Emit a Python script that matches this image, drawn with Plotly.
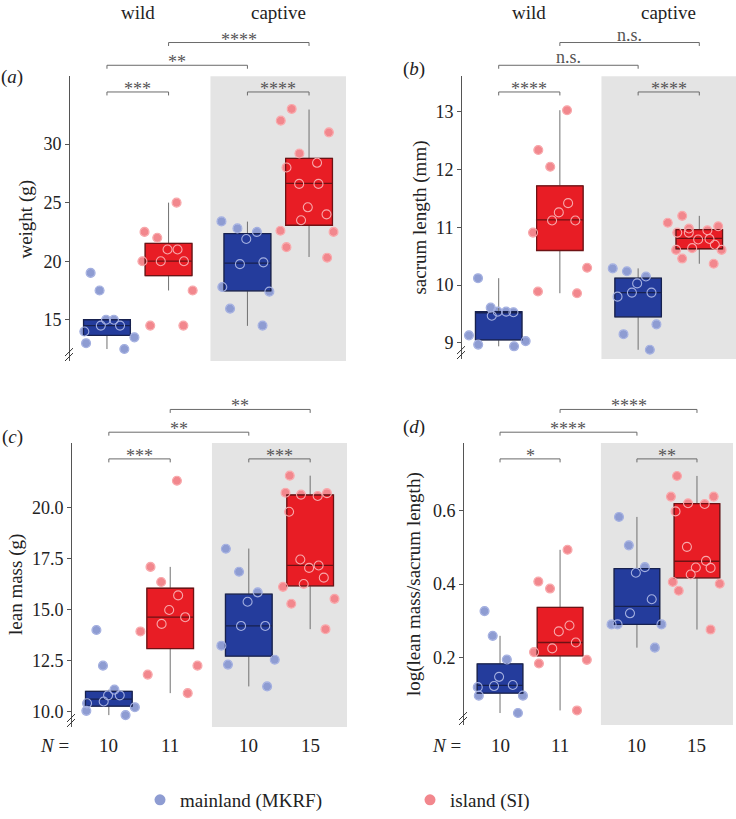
import plotly.graph_objects as go

W, H = 736, 819
FONT = "'Liberation Serif', 'Times New Roman', Times, serif"

# ---------------- data ----------------
positions = [0, 1, 2.28, 3.28]
origin = ["mainland", "island", "mainland", "island"]
n_labels = ["10", "11", "10", "15"]
header_labels = ["wild", "captive"]
legend_labels = ["mainland (MKRF)", "island (SI)"]

# (a) weight (g)
weight_points = [
    [19.0, 17.5, 15.0, 15.0, 14.5, 14.5, 14.0, 13.5, 13.0, 12.5],
    [25.0, 22.5, 22.0, 21.0, 21.0, 20.0, 20.0, 20.0, 17.5, 14.5, 14.5],
    [23.4, 22.8, 22.5, 21.9, 19.9, 19.75, 17.8, 17.4, 15.95, 14.5],
    [33.0, 32.0, 31.0, 29.2, 28.4, 28.0, 26.6, 26.6, 24.6, 24.0, 23.5, 22.6, 22.5, 21.2, 20.3],
]
weight_q1 = [13.67, 18.76, 17.47, 23.07]
weight_median = [14.5, 20.0, 19.83, 26.64]
weight_q3 = [15.0, 21.52, 22.36, 28.78]
weight_lo = [12.5, 17.5, 14.48, 20.36]
weight_hi = [15.0, 25.0, 23.38, 32.95]
weight_ticks = [15, 20, 25, 30]
weight_sig = [(0, 1, "***", 0), (2, 3, "****", 0), (0, 2, "**", 1), (1, 3, "****", 2)]

# (b) sacrum length (mm)
sacrum_points = [
    [10.12, 9.61, 9.54, 9.53, 9.54, 9.47, 9.13, 9.03, 8.97, 8.94],
    [13.03, 12.34, 12.05, 11.42, 11.26, 11.12, 11.12, 10.91, 10.30, 9.89, 9.86],
    [10.29, 10.24, 10.15, 10.03, 9.87, 9.87, 9.80, 9.32, 9.15, 8.88],
    [11.2, 11.08, 11.02, 10.98, 10.95, 10.91, 10.91, 10.79, 10.8, 10.7, 10.64, 10.61, 10.61, 10.46, 10.37],
]
sacrum_q1 = [9.05, 10.6, 9.45, 10.63]
sacrum_median = [9.52, 11.13, 9.87, 10.81]
sacrum_q3 = [9.54, 11.72, 10.12, 10.96]
sacrum_lo = [8.94, 9.86, 8.88, 10.37]
sacrum_hi = [10.12, 13.03, 10.29, 11.2]
sacrum_ticks = [9, 10, 11, 12, 13]
sacrum_sig = [(0, 1, "****", 0), (2, 3, "****", 0), (0, 2, "n.s.", 1), (1, 3, "n.s.", 2)]

# (c) lean mass (g)
lean_points = [
    [14.0, 12.25, 11.07, 10.79, 10.79, 10.49, 10.40, 10.21, 10.03, 9.82],
    [21.33, 17.10, 16.36, 15.7, 14.98, 14.63, 14.3, 13.93, 12.25, 11.81, 10.9],
    [17.99, 16.86, 15.85, 15.39, 14.2, 14.2, 13.23, 12.54, 12.3, 11.23],
    [21.58, 20.74, 20.72, 20.58, 20.65, 19.81, 17.46, 17.17, 17.05, 16.57, 16.26, 16.12, 15.53, 15.29, 14.04],
]
lean_q1 = [10.26, 13.09, 12.72, 16.17]
lean_median = [10.61, 14.63, 14.2, 17.17]
lean_q3 = [10.99, 16.05, 15.76, 20.63]
lean_lo = [9.82, 10.9, 11.23, 14.04]
lean_hi = [11.07, 17.1, 18.0, 21.58]
lean_ticks = [10.0, 12.5, 15.0, 17.5, 20.0]
lean_sig = [(0, 1, "***", 0), (2, 3, "***", 0), (0, 2, "**", 1), (1, 3, "**", 2)]

# (d) log(lean mass/sacrum length)
ratio_points = [
    [0.327, 0.26, 0.196, 0.149, 0.127, 0.121, 0.124, 0.098, 0.098, 0.051],
    [0.493, 0.407, 0.388, 0.288, 0.272, 0.242, 0.226, 0.216, 0.195, 0.185, 0.058],
    [0.582, 0.505, 0.446, 0.431, 0.359, 0.321, 0.291, 0.291, 0.291, 0.228],
    [0.693, 0.637, 0.637, 0.617, 0.619, 0.597, 0.501, 0.445, 0.463, 0.444, 0.426, 0.406, 0.401, 0.382, 0.277],
]
ratio_q1 = [0.105, 0.206, 0.291, 0.417]
ratio_median = [0.126, 0.242, 0.340, 0.462]
ratio_q3 = [0.184, 0.337, 0.442, 0.618]
ratio_lo = [0.051, 0.058, 0.228, 0.277]
ratio_hi = [0.26, 0.493, 0.582, 0.693]
ratio_ticks = [0.2, 0.4, 0.6]
ratio_sig = [(0, 1, "*", 0), (2, 3, "**", 0), (0, 2, "****", 1), (1, 3, "****", 2)]

# ---------------- styling ----------------
BOX_FILL = {"mainland": "#243c9c", "island": "#e81d25"}
BOX_LINE = {"mainland": "#17214f", "island": "#6e1214"}
PT_FILL = {"mainland": "#8e9cd2", "island": "#f2878d"}
PT_RING = {"mainland": "#a3afe0", "island": "#f8a7aa"}
GRAY_BG = "#e4e4e4"
AXIS_COL = "#555555"

panels = [
    dict(label="a", title="weight (g)", pts=weight_points, q1=weight_q1, med=weight_median,
         q3=weight_q3, lo=weight_lo, hi=weight_hi, ticks=weight_ticks, fmt="{:g}", sig=weight_sig,
         xpx=(70, 346), ypx=(77, 365), yr=(11.48, 35.8), titlex=26, labpos=(12, 78)),
    dict(label="b", title="sacrum length (mm)", pts=sacrum_points, q1=sacrum_q1, med=sacrum_median,
         q3=sacrum_q3, lo=sacrum_lo, hi=sacrum_hi, ticks=sacrum_ticks, fmt="{:g}", sig=sacrum_sig,
         xpx=(462, 736), ypx=(77, 363), yr=(8.72, 13.62), titlex=420, labpos=(414, 70)),
    dict(label="c", title="lean mass (g)", pts=lean_points, q1=lean_q1, med=lean_median,
         q3=lean_q3, lo=lean_lo, hi=lean_hi, ticks=lean_ticks, fmt="{:.1f}", sig=lean_sig,
         xpx=(72, 347), ypx=(448, 735), yr=(9.24, 23.18), titlex=16, labpos=(12, 442)),
    dict(label="d", title="log(lean mass/sacrum length)", pts=ratio_points, q1=ratio_q1, med=ratio_median,
         q3=ratio_q3, lo=ratio_lo, hi=ratio_hi, ticks=ratio_ticks, fmt="{:.1f}", sig=ratio_sig,
         xpx=(464, 733), ypx=(448, 733), yr=(0.0187, 0.782), titlex=414, labpos=(414, 432)),
]

XR = (-0.6, 3.88)
BOX_W = 0.76
PTS_W = 1.15
GRAY_X0 = 1.68


def px_x(p):
    return p / W


def px_y(p):
    return 1 - p / H


fig = go.Figure()
shapes = []
annotations = []
layout_axes = {}

for k, p in enumerate(panels):
    sfx = "" if k == 0 else str(k + 1)
    xa, ya = "x" + sfx, "y" + sfx
    x0p, x1p = p["xpx"]
    y0p, y1p = p["ypx"]
    layout_axes["xaxis" + sfx] = dict(
        domain=[px_x(x0p), px_x(x1p)], range=list(XR), visible=False, anchor=ya, fixedrange=True)
    layout_axes["yaxis" + sfx] = dict(
        domain=[px_y(y1p), px_y(y0p)], range=list(p["yr"]), anchor=xa,
        showgrid=False, zeroline=False, showline=True, linecolor=AXIS_COL, linewidth=1,
        ticks="outside", ticklen=4, tickcolor=AXIS_COL, tickwidth=1,
        tickvals=p["ticks"], ticktext=[p["fmt"].format(t) for t in p["ticks"]],
        tickfont=dict(family=FONT, size=18, color="#222"), fixedrange=True)

    # grey "captive" background
    shapes.append(dict(type="rect", xref=xa, yref=ya + " domain", x0=GRAY_X0, x1=XR[1], y0=0, y1=1,
                       fillcolor=GRAY_BG, line=dict(width=0), layer="below"))

    for g in range(4):
        o = origin[g]
        pos = positions[g]
        pts = p["pts"][g]
        common_pts = dict(x=[pos] * len(pts), y=pts, boxpoints="all", jitter=1.0, pointpos=0,
                          width=PTS_W, fillcolor="rgba(0,0,0,0)", line=dict(width=0, color="rgba(0,0,0,0)"),
                          xaxis=xa, yaxis=ya, showlegend=False, hoverinfo="y")
        # filled points (underneath)
        fig.add_trace(go.Box(**common_pts, marker=dict(size=9, color=PT_FILL[o],
                                                       line=dict(color="rgba(255,255,255,0.55)", width=0.8))))
        # whiskers
        fig.add_trace(go.Box(x=[pos], q1=[p["q1"][g]], median=[p["med"][g]], q3=[p["q3"][g]],
                             lowerfence=[p["lo"][g]], upperfence=[p["hi"][g]], boxpoints=False,
                             width=BOX_W, whiskerwidth=0, fillcolor="rgba(0,0,0,0)",
                             line=dict(color="#707070", width=1), xaxis=xa, yaxis=ya,
                             showlegend=False, hoverinfo="skip"))
        # box
        fig.add_trace(go.Box(x=[pos], q1=[p["q1"][g]], median=[p["med"][g]], q3=[p["q3"][g]],
                             lowerfence=[p["q1"][g]], upperfence=[p["q3"][g]], boxpoints=False,
                             width=BOX_W, whiskerwidth=0, fillcolor=BOX_FILL[o],
                             line=dict(color=BOX_LINE[o], width=1.3), xaxis=xa, yaxis=ya,
                             showlegend=False, hoverinfo="skip"))
        # rings on top
        fig.add_trace(go.Box(**common_pts, marker=dict(size=9, color="rgba(0,0,0,0)",
                                                       line=dict(color=PT_RING[o], width=1.1))))

    # significance brackets
    offs = {0: 16, 1: -11, 2: -34}
    for (i, j, txt, lvl) in p["sig"]:
        ly = y0p + offs[lvl]
        yl = px_y(ly)
        yt = px_y(ly + 3.5)
        xi, xj = positions[i], positions[j]
        line = dict(color="#6a6a6a", width=1)
        shapes.append(dict(type="line", xref=xa, yref="paper", x0=xi, x1=xj, y0=yl, y1=yl, line=line))
        shapes.append(dict(type="line", xref=xa, yref="paper", x0=xi, x1=xi, y0=yl, y1=yt, line=line))
        shapes.append(dict(type="line", xref=xa, yref="paper", x0=xj, x1=xj, y0=yl, y1=yt, line=line))
        is_star = txt.startswith("*")
        annotations.append(dict(text=txt, xref=xa, yref="paper", x=(xi + xj) / 2, y=yl,
                                xanchor="center", yanchor="bottom", showarrow=False,
                                yshift=-9 if is_star else -4,
                                font=dict(family=FONT, size=18, color="#555")))

    # axis break marks
    ax_x = x0p
    for dy in (4, 9):
        shapes.append(dict(type="line", xref="paper", yref="paper",
                           x0=px_x(ax_x - 5), y0=px_y(y1p - dy + 4),
                           x1=px_x(ax_x + 3), y1=px_y(y1p - dy - 4),
                           line=dict(color="#333", width=1)))

    # y-axis title
    annotations.append(dict(text=p["title"], xref="paper", yref=ya + " domain", x=px_x(p["titlex"]), y=0.5,
                            textangle=-90, xanchor="center", yanchor="middle", showarrow=False,
                            font=dict(family=FONT, size=19, color="#222")))
    # panel label
    annotations.append(dict(text="(<i>%s</i>)" % p["label"], xref="paper", yref="paper",
                            x=px_x(p["labpos"][0]), y=px_y(p["labpos"][1]), xanchor="center", yanchor="middle",
                            showarrow=False, font=dict(family=FONT, size=19, color="#222")))

    # headers for top panels, N for bottom
    if k < 2:
        for h, xc in zip(header_labels, [(positions[0] + positions[1]) / 2, (positions[2] + positions[3]) / 2]):
            annotations.append(dict(text=h, xref=xa, yref="paper", x=xc, y=px_y(13), xanchor="center",
                                    yanchor="middle", showarrow=False,
                                    font=dict(family=FONT, size=19, color="#222")))
    else:
        annotations.append(dict(text="<i>N</i> =", xref="paper", yref="paper", x=px_x(x0p - 1), y=px_y(754),
                                xanchor="right", yanchor="middle", showarrow=False,
                                font=dict(family=FONT, size=19, color="#222")))
        for g in range(4):
            annotations.append(dict(text=n_labels[g], xref=xa, yref="paper", x=positions[g], y=px_y(754),
                                    xanchor="center", yanchor="middle", showarrow=False,
                                    font=dict(family=FONT, size=19, color="#222")))

# legend entries
for lab, o in zip(legend_labels, ["mainland", "island"]):
    fig.add_trace(go.Scatter(x=[None], y=[None], mode="markers", name=lab,
                             marker=dict(size=11, color=PT_FILL[o]), xaxis="x", yaxis="y", showlegend=True))

fig.update_layout(
    width=W, height=H, margin=dict(l=0, r=0, t=0, b=0),
    paper_bgcolor="white", plot_bgcolor="rgba(0,0,0,0)",
    boxmode="overlay", shapes=shapes, annotations=annotations,
    showlegend=True, font=dict(family=FONT),
    legend=dict(orientation="h", x=px_x(140), xanchor="left", y=px_y(809), yanchor="middle",
                font=dict(family=FONT, size=19, color="#222"), entrywidth=225, entrywidthmode="pixels",
                bgcolor="rgba(0,0,0,0)", itemclick=False, itemdoubleclick=False),
    **layout_axes,
)

fig.write_html("out.html", config={"displayModeBar": False},
               post_script="document.body.style.margin='0';document.body.style.overflow='hidden';")
